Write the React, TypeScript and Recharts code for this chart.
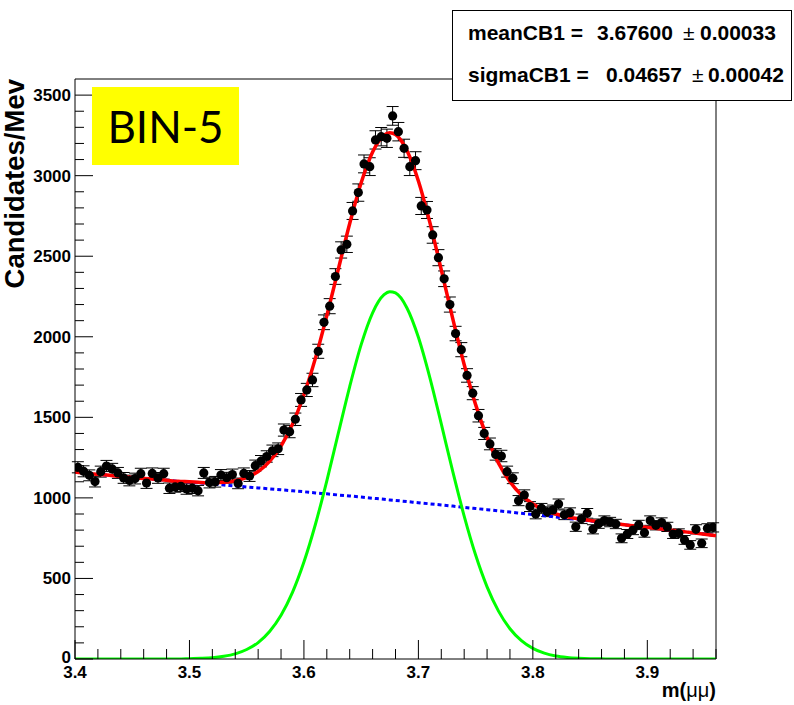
import React from 'react';
import { ComposedChart, Line, Scatter, XAxis, YAxis, ErrorBar, ReferenceLine } from 'recharts';

// ---- data ----
const binStart = 3.4025;
const binWidth = 0.005;
const binCounts = [
  1190, 1165, 1140, 1101, 1163, 1198, 1180, 1155, 1124, 1108,
  1120, 1150, 1092, 1152, 1124, 1150, 1060, 1068, 1072, 1055,
  1060, 1045, 1155, 1095, 1100, 1142, 1125, 1145, 1090, 1152,
  1136, 1200, 1228, 1257, 1292, 1305, 1421, 1411, 1488, 1608,
  1670, 1732, 1910, 2090, 2190, 2374, 2539, 2574, 2781, 2895,
  3073, 3056, 3222, 3242, 3232, 3371, 3273, 3170, 3056, 3093,
  2812, 2787, 2632, 2491, 2360, 2200, 2020, 1920, 1760, 1650,
  1510, 1400, 1335, 1270, 1260, 1163, 1122, 983, 1018, 946,
  900, 935, 914, 925, 962, 895, 908, 821, 870, 904,
  805, 840, 859, 850, 838, 749, 776, 800, 832, 784,
  859, 830, 847, 820, 776, 780, 739, 708, 805, 718,
  811, 817,
];

const curveX = [
  3.40, 3.41, 3.42, 3.43, 3.44, 3.45, 3.46, 3.47, 3.48, 3.49,
  3.50, 3.51, 3.52, 3.53, 3.54, 3.55, 3.56, 3.57, 3.58, 3.59,
  3.60, 3.61, 3.62, 3.63, 3.64, 3.65, 3.66, 3.67, 3.675, 3.68, 3.69,
  3.70, 3.71, 3.72, 3.73, 3.74, 3.75, 3.76, 3.77, 3.78, 3.79,
  3.80, 3.81, 3.82, 3.83, 3.84, 3.85, 3.86, 3.87, 3.88, 3.89,
  3.90, 3.91, 3.92, 3.93, 3.94, 3.95, 3.96,
];
const bkgValues = [
  1160, 1152, 1146, 1140, 1133, 1127, 1121, 1115, 1109, 1103,
  1098, 1092, 1086, 1080, 1074, 1068, 1062, 1056, 1050, 1044,
  1038, 1031, 1025, 1018, 1012, 1005, 998, 991, 987, 984, 977,
  970, 963, 956, 949, 941, 934, 927, 919, 912, 904,
  896, 889, 881, 873, 865, 857, 849, 841, 833, 825,
  817, 809, 800, 792, 783, 775, 766,
];
const sigValues = [
  0, 0, 0, 0, 0, 0, 0, 0, 0, 0,
  2, 4, 8, 17, 32, 59, 102, 171, 272, 414,
  602, 835, 1106, 1400, 1691, 1951, 2149, 2261, 2280, 2272, 2179,
  1997, 1747, 1459, 1164, 887, 645, 448, 297, 188, 114,
  66, 36, 19, 10, 5, 2, 1, 0, 0, 0,
  0, 0, 0, 0, 0, 0, 0,
];

const xTicks = [
  3.40, 3.42, 3.44, 3.46, 3.48, 3.50, 3.52, 3.54, 3.56, 3.58,
  3.60, 3.62, 3.64, 3.66, 3.68, 3.70, 3.72, 3.74, 3.76, 3.78,
  3.80, 3.82, 3.84, 3.86, 3.88, 3.90, 3.92, 3.94, 3.96,
];
const xMajorTicks = [3.4, 3.5, 3.6, 3.7, 3.8, 3.9];
const yTicks = [
  0, 100, 200, 300, 400, 500, 600, 700, 800, 900, 1000, 1100, 1200,
  1300, 1400, 1500, 1600, 1700, 1800, 1900, 2000, 2100, 2200, 2300,
  2400, 2500, 2600, 2700, 2800, 2900, 3000, 3100, 3200, 3300, 3400, 3500,
];
const yMajorTicks = [0, 500, 1000, 1500, 2000, 2500, 3000, 3500];

// ---- derived tables ----
const points = binCounts.map((c, i) => ({
  x: binStart + binWidth * i,
  y: c,
  err: Math.sqrt(c),
}));
const curves = curveX.map((x, i) => ({
  x,
  bkg: bkgValues[i],
  sig: sigValues[i],
  tot: bkgValues[i] + sigValues[i],
}));

// ---- layout ----
const W = 794;
const H = 705;
const PL = 75;
const PR = 716;
const PT = 79;
const PB = 659;
const FONT = '"Liberation Sans", Arial, Helvetica, sans-serif';

const isMajorX = (v: number) => xMajorTicks.some((m) => Math.abs(m - v) < 1e-6);
const isMajorY = (v: number) => yMajorTicks.includes(v);

const XTick = (props: any) => {
  const { x, payload } = props;
  const v = payload.value as number;
  const major = isMajorX(v);
  return (
    <g>
      <line x1={x} x2={x} y1={PB} y2={PB - (major ? 19 : 10)} stroke="#000" strokeWidth={1} />
      {major && (
        <text x={x} y={678} textAnchor="middle" fontSize={17} fontWeight="bold" fontFamily={FONT} fill="#000">
          {v.toFixed(1)}
        </text>
      )}
    </g>
  );
};

const YTick = (props: any) => {
  const { y, payload } = props;
  const v = payload.value as number;
  const major = isMajorY(v);
  return (
    <g>
      <line x1={PL} x2={PL + (major ? 18 : 9)} y1={y} y2={y} stroke="#000" strokeWidth={1} />
      {major && (
        <text x={71} y={y + (v === 0 ? 4 : 6)} textAnchor="end" fontSize={17} fontWeight="bold" fontFamily={FONT} fill="#000">
          {v}
        </text>
      )}
    </g>
  );
};

const Dot = (props: any) => {
  const { cx, cy } = props;
  return <circle cx={cx} cy={cy} r={4.6} fill="#000" />;
};

const statStyle = { position: 'absolute' as const, whiteSpace: 'nowrap' as const };

export default function App() {
  return (
    <div style={{ position: 'absolute', left: 0, top: 0, width: W, height: H, background: '#fff', overflow: 'hidden' }}>
      <ComposedChart width={W} height={H} margin={{ top: PT, right: W - PR, bottom: 0, left: 0 }}>
        <XAxis
          dataKey="x"
          type="number"
          domain={[3.4, 3.96]}
          ticks={xTicks}
          interval={0}
          tickLine={false}
          tick={<XTick />}
          axisLine={{ stroke: '#000', strokeWidth: 1 }}
          height={H - PB}
          allowDataOverflow
        />
        <YAxis
          dataKey="y"
          type="number"
          domain={[0, 3600]}
          ticks={yTicks}
          interval={0}
          tickLine={false}
          tick={<YTick />}
          axisLine={{ stroke: '#000', strokeWidth: 1 }}
          width={PL}
          allowDataOverflow
        />
        <ReferenceLine y={3600} stroke="#000" strokeWidth={1} />
        <ReferenceLine x={3.96} stroke="#000" strokeWidth={1} />
        <Scatter data={points} fill="#000" shape={<Dot />} isAnimationActive={false}>
          <ErrorBar dataKey="err" direction="y" width={6} stroke="#000" strokeWidth={1} isAnimationActive={false} />
        </Scatter>
        <Line
          data={curves}
          dataKey="bkg"
          type="monotone"
          stroke="#0000ff"
          strokeWidth={3}
          strokeDasharray="4 3"
          dot={false}
          activeDot={false}
          isAnimationActive={false}
        />
        <Line
          data={curves}
          dataKey="sig"
          type="monotone"
          stroke="#00ff00"
          strokeWidth={3}
          dot={false}
          activeDot={false}
          isAnimationActive={false}
        />
        <Line
          data={curves}
          dataKey="tot"
          type="monotone"
          stroke="#ff0000"
          strokeWidth={3.5}
          dot={false}
          activeDot={false}
          isAnimationActive={false}
        />
      </ComposedChart>

      <svg width={W} height={H} style={{ position: 'absolute', left: 0, top: 0, pointerEvents: 'none' }}>
        <text
          transform={`translate(24,${PT}) rotate(-90)`}
          textAnchor="end"
          fontSize={27.5}
          fontWeight="bold"
          fontFamily={FONT}
          fill="#000"
        >
          Candidates/Mev
        </text>
        <text x={PR} y={697} textAnchor="end" fontSize={20} fontFamily={FONT} fill="#000">
          <tspan fontWeight="bold">m(</tspan>
          <tspan>μμ</tspan>
          <tspan fontWeight="bold">)</tspan>
        </text>
      </svg>

      <div
        style={{
          position: 'absolute',
          left: 92,
          top: 87,
          width: 147,
          height: 78,
          background: '#ffff00',
          fontFamily: 'Lato, "Open Sans", sans-serif',
          fontSize: 44,
          lineHeight: '78px',
          textAlign: 'center',
          color: '#000',
        }}
      >
        BIN-5
      </div>

      <div
        style={{
          position: 'absolute',
          left: 452,
          top: 10,
          width: 338,
          height: 89,
          background: '#fff',
          border: '1px solid #000',
          fontFamily: FONT,
          fontSize: 21,
          fontWeight: 'bold',
          color: '#000',
        }}
      >
        <div style={{ ...statStyle, left: 15, top: 10 }}>meanCB1 =</div>
        <div style={{ ...statStyle, left: 144, top: 10 }}>3.67600</div>
        <div style={{ ...statStyle, left: 230, top: 10, fontWeight: 'normal' }}>±</div>
        <div style={{ ...statStyle, left: 247, top: 10 }}>0.00033</div>
        <div style={{ ...statStyle, left: 15, top: 52 }}>sigmaCB1 =</div>
        <div style={{ ...statStyle, left: 153, top: 52 }}>0.04657</div>
        <div style={{ ...statStyle, left: 239, top: 52, fontWeight: 'normal' }}>±</div>
        <div style={{ ...statStyle, left: 255, top: 52 }}>0.00042</div>
      </div>
    </div>
  );
}
